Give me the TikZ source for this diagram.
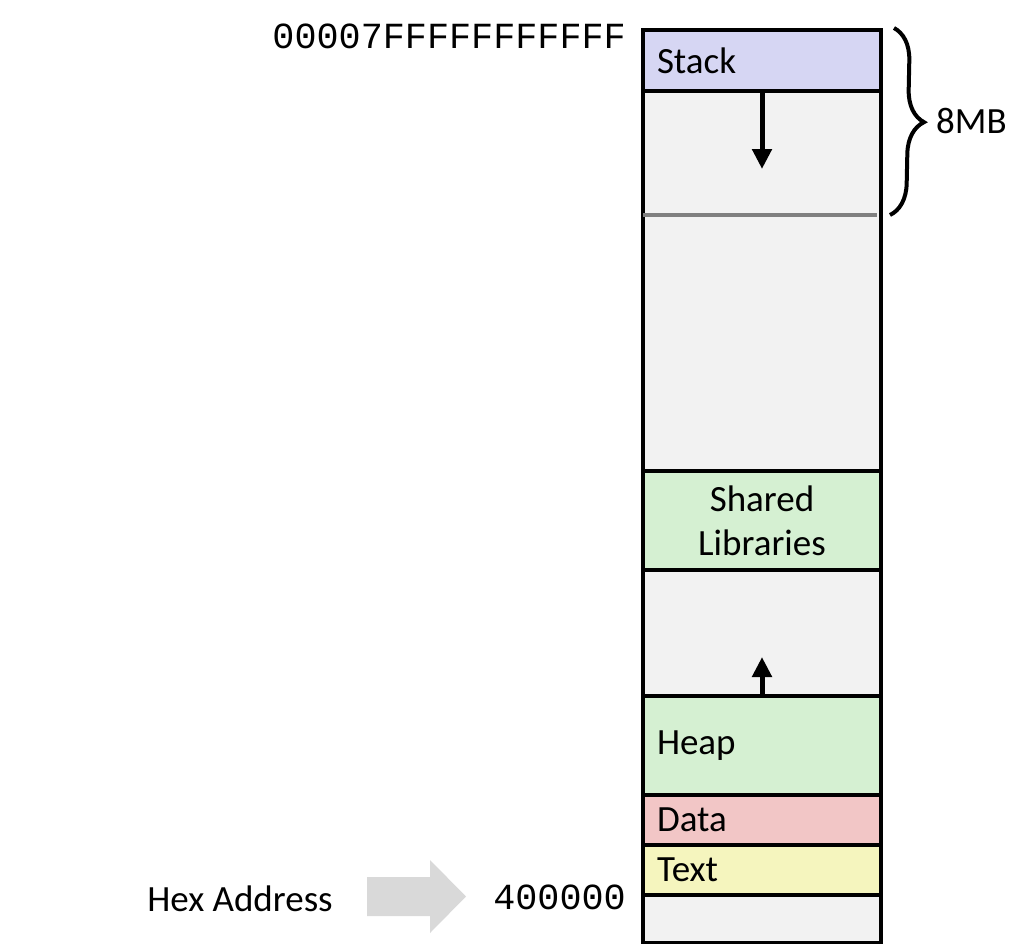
\documentclass[tikz,border=0pt]{standalone}
\usepackage{fontspec}
\setmainfont{Carlito}
\newfontfamily\addrfont{Liberation Mono}
\usepackage{tikz}
\usetikzlibrary{arrows.meta}
\usetikzlibrary{calc}
\usetikzlibrary{decorations.pathreplacing}

\definecolor{stackfill}{RGB}{214,214,243}
\definecolor{freefill}{RGB}{242,242,242}
\definecolor{greenfill}{RGB}{213,240,210}
\definecolor{datafill}{RGB}{242,198,198}
\definecolor{textfill}{RGB}{245,245,190}
\definecolor{hexgray}{RGB}{217,217,217}
\definecolor{limitgray}{RGB}{128,128,128}

\begin{document}
\begin{tikzpicture}[x=1pt, y=-1pt,
	seg_node/.style={draw, line width=4pt, anchor=north west, minimum width=238pt, inner xsep=14pt, inner ysep=0pt, text width=210pt, align=left, font=\fontsize{37}{45}\selectfont},
	center_node/.style={seg_node, align=center},
	addr_text/.style={inner sep=0pt, font=\addrfont\fontsize{36.8}{44}\selectfont},
	grow_arrow/.style={line width=5pt, -{Triangle[width=19pt,length=20pt]}},
	limit_line/.style={line width=3.5pt, limitgray, shorten <=2pt, shorten >=2pt},
	size_brace/.style={line width=4pt, decorate, decoration={brace, amplitude=32pt}}]

	\useasboundingbox (0,0) rectangle (1031,943);

	% memory segments, top to bottom
	\node[seg_node, fill=stackfill, minimum height=61pt] (stack) at (641,28) {Stack};
	\node[seg_node, fill=freefill, minimum height=380pt] (free1) at (641,89) {};
	\node[center_node, fill=greenfill, minimum height=99pt] (shlib) at (641,469) {Shared\\[-1pt]Libraries};
	\node[seg_node, fill=freefill, minimum height=126pt] (free2) at (641,568) {};
	\node[seg_node, fill=greenfill, minimum height=99pt] (heap) at (641,694) {Heap};
	\node[seg_node, fill=datafill, minimum height=50pt] (data) at (641,793) {Data};
	\node[seg_node, fill=textfill, minimum height=50pt] (text) at (641,843) {Text};
	\node[seg_node, fill=freefill, minimum height=48pt] (bottom) at (641,893) {};

	% 8MB stack limit
	\coordinate (limit_w) at (641,215);
	\coordinate (limit_e) at (879,215);
	\draw[limit_line] (limit_w) -- (limit_e);
	\draw[size_brace] ([xshift=11pt]stack.north east) -- ([xshift=11pt]limit_e);
	\node[anchor=west, inner sep=0pt, font=\fontsize{37}{45}\selectfont] (size) at (936,121) {8MB};

	% growth directions
	\draw[grow_arrow] (stack.south) -- ++(0,76);
	\draw[grow_arrow] (heap.north) -- ++(0,-37);

	% addresses
	\node[addr_text, anchor=east] (top_addr) at (626,36) {00007FFFFFFFFFFF};
	\node[addr_text, anchor=east] (low_addr) at (626,897) {400000};
	\node[inner sep=0pt, font=\fontsize{37}{45}\selectfont] (hex) at (240,899) {Hex Address};
	\fill[hexgray] (367,877) -- (430,877) -- (430,860) -- (466,896.5) -- (430,933) -- (430,916) -- (367,916) -- cycle;

\end{tikzpicture}
\end{document}
